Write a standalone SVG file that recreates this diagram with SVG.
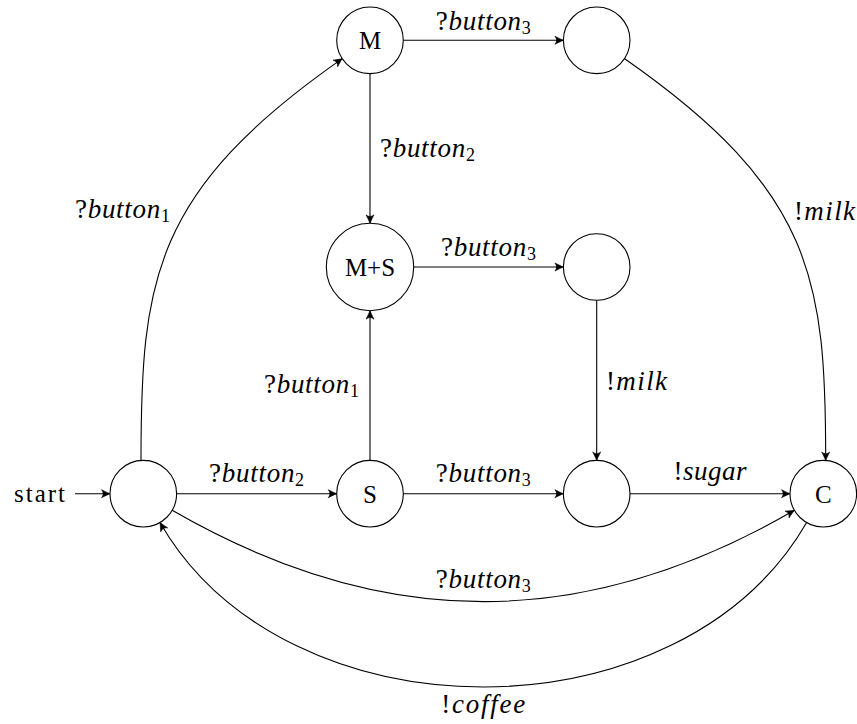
<svg xmlns="http://www.w3.org/2000/svg" width="857" height="724" viewBox="0 0 857 724">
  <style>
    .state { fill: #ffffff; stroke: #000000; stroke-width: 1.1; }
    .edge { fill: none; stroke: #000000; stroke-width: 1.1; marker-end: url(#arrow); }
    text { font-family: "Liberation Serif", "DejaVu Serif", serif; font-size: 25px; fill: #000000; }
    .lbl { font-size: 27px; }
    .name { text-anchor: middle; }
    .it { font-style: italic; }
    .sub { font-size: 18px; font-style: normal; }
  </style>
  <defs>
    <!-- curved-barb arrow tip, tip sits on the path end -->
    <marker id="arrow" markerUnits="userSpaceOnUse" markerWidth="14" markerHeight="14" viewBox="-10 -7 12 14" refX="0" refY="0" orient="auto" overflow="visible">
      <path d="M0,0 C-2,-0.8 -5,-2.2 -8.5,-4 C-6.3,-1.5 -6.3,1.5 -8.5,4 C-5,2.2 -2,0.8 0,0 Z" fill="#000000" stroke="#000000" stroke-width="0.6" stroke-linejoin="round"/>
    </marker>
  </defs>

  <!-- transitions -->
  <g id="connectors">
    <path class="edge" d="M75,493.7 L110,493.7"/>
    <path class="edge" d="M176.6,493.7 L336.7,493.7"/>
    <path class="edge" d="M403.3,493.7 L563.4,493.7"/>
    <path class="edge" d="M630,493.7 L790,493.7"/>
    <path class="edge" d="M370,460.4 L370,310.7"/>
    <path class="edge" d="M370,73.6 L370,223.3"/>
    <path class="edge" d="M403.3,40.3 L563.4,40.3"/>
    <path class="edge" d="M413.7,267 L563.4,267"/>
    <path class="edge" d="M596.7,300.3 L596.7,460.4"/>
    <path class="edge" d="M141,460.5 C141,280 152.6,191 342.3,58.6"/>
    <path class="edge" d="M624.7,58.8 C814.1,191 825.7,280 825.7,460.5"/>
    <path class="edge" d="M172.2,510.3 C383.2,632.1 583.4,632.1 794.4,510.3"/>
    <path class="edge" d="M806.65,522.5 C680.05,741.8 286.55,741.8 159.95,522.5"/>

    <!-- transition labels -->
    <text x="65" y="502" text-anchor="end" font-size="26" textLength="51">start</text>
    <text class="lbl" x="256.6" y="482" text-anchor="middle" textLength="95">?<tspan class="it">button</tspan><tspan class="sub" dy="4">2</tspan></text>
    <text class="lbl" x="483.3" y="482" text-anchor="middle" textLength="95">?<tspan class="it">button</tspan><tspan class="sub" dy="4">3</tspan></text>
    <text class="lbl" x="710" y="480" text-anchor="middle" textLength="73">!<tspan class="it">sugar</tspan></text>
    <text class="lbl" x="483.3" y="30" text-anchor="middle" textLength="95">?<tspan class="it">button</tspan><tspan class="sub" dy="4">3</tspan></text>
    <text class="lbl" x="488.5" y="256" text-anchor="middle" textLength="95">?<tspan class="it">button</tspan><tspan class="sub" dy="4">3</tspan></text>
    <text class="lbl" x="380" y="156.5" textLength="95">?<tspan class="it">button</tspan><tspan class="sub" dy="4">2</tspan></text>
    <text class="lbl" x="359" y="392.5" text-anchor="end" textLength="95">?<tspan class="it">button</tspan><tspan class="sub" dy="4">1</tspan></text>
    <text class="lbl" x="606" y="390" textLength="61">!<tspan class="it">milk</tspan></text>
    <text class="lbl" x="794" y="220" textLength="61">!<tspan class="it">milk</tspan></text>
    <text class="lbl" x="170" y="218" text-anchor="end" textLength="95">?<tspan class="it">button</tspan><tspan class="sub" dy="4">1</tspan></text>
    <text class="lbl" x="483.3" y="588" text-anchor="middle" textLength="95">?<tspan class="it">button</tspan><tspan class="sub" dy="4">3</tspan></text>
    <text class="lbl" x="483.3" y="713" text-anchor="middle" textLength="84">!<tspan class="it">coffee</tspan></text>
  </g>

  <!-- states -->
  <g id="q0">
    <circle class="state" cx="143.3" cy="493.7" r="33.3"/>
  </g>
  <g id="M">
    <circle class="state" cx="370" cy="40.3" r="33.3"/>
    <text class="name" x="370" y="49.3">M</text>
  </g>
  <g id="M3">
    <circle class="state" cx="596.7" cy="40.3" r="33.3"/>
  </g>
  <g id="MS">
    <circle class="state" cx="370" cy="267" r="43.7"/>
    <text class="name" x="370" y="276">M+S</text>
  </g>
  <g id="MS3">
    <circle class="state" cx="596.7" cy="267" r="33.3"/>
  </g>
  <g id="S">
    <circle class="state" cx="370" cy="493.7" r="33.3"/>
    <text class="name" x="370" y="502.7">S</text>
  </g>
  <g id="S3">
    <circle class="state" cx="596.7" cy="493.7" r="33.3"/>
  </g>
  <g id="C">
    <circle class="state" cx="823.3" cy="493.7" r="33.3"/>
    <text class="name" x="823.3" y="502.7">C</text>
  </g>
</svg>
